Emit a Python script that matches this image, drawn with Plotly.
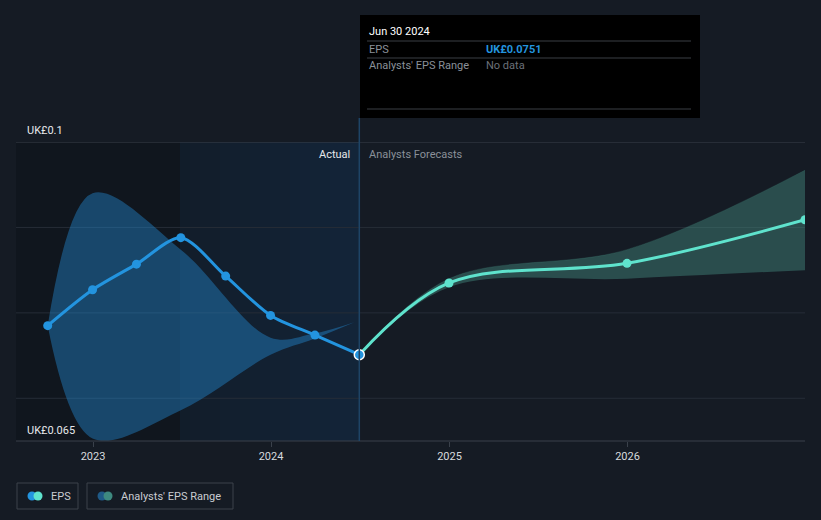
import plotly.graph_objects as go

# ---- data ----
eps_dates = ["2022-09-30", "2022-12-31", "2023-03-31", "2023-06-30",
             "2023-09-30", "2023-12-31", "2024-03-31", "2024-06-30"]
eps_values = [0.0785, 0.0827, 0.0857, 0.0888, 0.0843, 0.0797, 0.0774, 0.0751]

fc_dates = ["2024-06-30", "2024-12-31", "2025-12-31", "2026-12-31"]
fc_values = [0.0751, 0.0835, 0.0858, 0.0909]

hist_rng_dates = ["2022-09-30", "2022-12-31", "2023-06-30", "2023-12-31", "2024-03-31", "2024-06-20"]
hist_rng_high = [0.0785, 0.0940, 0.0874, 0.0771, 0.0776, 0.0789]
hist_rng_low = [0.0785, 0.0653, 0.0686, 0.0751, 0.0770, 0.0789]

fc_rng_dates = ["2024-06-30", "2024-12-31", "2025-12-31", "2026-12-31"]
fc_rng_high = [0.0751, 0.0840, 0.0874, 0.0967]
fc_rng_low = [0.0751, 0.0830, 0.0840, 0.0850]

x_ticks = ["2023-01-01", "2024-01-01", "2025-01-01", "2026-01-01"]
x_tick_labels = ["2023", "2024", "2025", "2026"]
y_min, y_max = 0.065, 0.1
y_grid = [0.07, 0.08, 0.09, 0.1]

BG = "#151b24"
BLUE = "#2394df"
TEAL = "#5fe3cd"

# plot area in pixels
L, R, T, B = 16, 805, 142, 441
W, H = 821, 520


def px(x):
    return (x - L) / (R - L)


def py(y):
    return (B - y) / (B - T)


fig = go.Figure()

# historical analyst range
fig.add_trace(go.Scatter(x=hist_rng_dates, y=hist_rng_high, mode="lines",
                         line=dict(width=0, shape="spline", smoothing=1, color="rgba(0,0,0,0)"),
                         hoverinfo="skip", showlegend=False))
fig.add_trace(go.Scatter(x=hist_rng_dates, y=hist_rng_low, mode="lines",
                         line=dict(width=0, shape="spline", smoothing=1, color="rgba(0,0,0,0)"),
                         fill="tonexty", fillcolor="rgba(35,140,215,0.42)",
                         hoverinfo="skip", showlegend=False))
# forecast range
fig.add_trace(go.Scatter(x=fc_rng_dates, y=fc_rng_high, mode="lines",
                         line=dict(width=0.6, shape="spline", smoothing=1, color="rgba(70,150,135,0.35)"),
                         hoverinfo="skip", showlegend=False))
fig.add_trace(go.Scatter(x=fc_rng_dates, y=fc_rng_low, mode="lines",
                         line=dict(width=0, shape="spline", smoothing=1, color="rgba(0,0,0,0)"),
                         fill="tonexty", fillcolor="rgba(75,160,145,0.38)",
                         hoverinfo="skip", showlegend=False))

# forecast EPS
fig.add_trace(go.Scatter(x=fc_dates, y=fc_values, mode="lines+markers",
                         line=dict(color=TEAL, width=3, shape="spline", smoothing=1),
                         marker=dict(size=9, color=TEAL), showlegend=False, hoverinfo="skip"))
# actual EPS
fig.add_trace(go.Scatter(x=eps_dates, y=eps_values, mode="lines+markers",
                         line=dict(color=BLUE, width=3, shape="spline", smoothing=0.8),
                         marker=dict(size=9, color=BLUE), showlegend=False, hoverinfo="skip"))
# hovered point
fig.add_trace(go.Scatter(x=[eps_dates[-1]], y=[eps_values[-1]], mode="markers",
                         marker=dict(size=10, color=BLUE, line=dict(color="white", width=1.5)),
                         showlegend=False, hoverinfo="skip"))

shapes = []
# dark past region
shapes.append(dict(type="rect", xref="x", yref="paper", x0="2022-07-01", x1="2023-06-30",
                   y0=0, y1=1, fillcolor="#10161e", line_width=0, layer="below"))
# actual highlight region (strips for a horizontal gradient)
shapes.append(dict(type="rect", xref="paper", yref="paper", x0=px(180), x1=px(360),
                   y0=0, y1=1, fillcolor="#121d2a", line_width=0, layer="below"))
n = 18
for i in range(n):
    a = 0.015 + 0.02 * i
    shapes.append(dict(type="rect", xref="paper", yref="paper",
                       x0=px(180 + 180 * i / n), x1=px(180 + 180 * (i + 1) / n),
                       y0=0, y1=1, fillcolor="rgba(22,52,85,%.3f)" % min(a, 0.4),
                       line_width=0, layer="below"))
# gridlines
for g in y_grid:
    shapes.append(dict(type="line", xref="paper", yref="y", x0=0, x1=1, y0=g, y1=g,
                       line=dict(color="#3a414b" if g == y_max else "#262d37", width=1), layer="below"))
# bottom axis line
shapes.append(dict(type="line", xref="paper", yref="paper", x0=0, x1=1, y0=0, y1=0,
                   line=dict(color="#3a414b", width=1)))
# hover vertical line
shapes.append(dict(type="line", xref="x", yref="paper", x0="2024-06-30", x1="2024-06-30",
                   y0=0, y1=py(118), line=dict(color="#1e4466", width=1.5)))
# tooltip box
shapes.append(dict(type="rect", xref="paper", yref="paper", x0=px(360), x1=px(700),
                   y0=py(118), y1=py(15), fillcolor="#000000", line=dict(color="#000000", width=0)))
for yy in (41, 58, 109):
    shapes.append(dict(type="line", xref="paper", yref="paper", x0=px(367), x1=px(691),
                       y0=py(yy), y1=py(yy), line=dict(color="#3b3f45", width=1)))
# legend boxes
for (x0, x1) in ((17, 78), (87, 233)):
    shapes.append(dict(type="rect", xref="paper", yref="paper", x0=px(x0), x1=px(x1),
                       y0=py(509), y1=py(483), fillcolor=BG,
                       line=dict(color="#3c424b", width=1)))


def dot(cx, cy, r, color):
    return dict(type="circle", xref="paper", yref="paper", x0=px(cx - r), x1=px(cx + r),
                y0=py(cy + r), y1=py(cy - r), fillcolor=color, line_width=0)


shapes += [dot(32, 496, 4.5, BLUE), dot(38, 496, 4.5, TEAL)]
shapes += [dot(102, 496, 4.5, "#1f5a87"), dot(108, 496, 4.5, "#3e8a80")]

FONT = "Roboto, Inter, sans-serif"
ann = []


def text(x, y, s, color, size=11, anchor="left", bold=False):
    ann.append(dict(xref="paper", yref="paper", x=px(x), y=py(y), text=("<b>%s</b>" % s) if bold else s,
                    showarrow=False, xanchor=anchor, yanchor="middle",
                    font=dict(family=FONT, size=size, color=color)))


text(25, 130, "UK£0.1", "#e6e8eb")
text(25, 430, "UK£0.065", "#e6e8eb")
text(352, 154, "Actual", "#e6e8eb", anchor="right")
text(367, 154, "Analysts Forecasts", "#8a9099")
text(367, 31, "Jun 30 2024", "#ffffff")
text(367, 49, "EPS", "#8a9099")
text(484, 49, "UK£0.0751", BLUE, bold=True)
text(367, 66, "Analysts' EPS Range", "#8a9099")
text(484, 66, "No data", "#6b7079")
text(49, 496, "EPS", "#c9ccd1")
text(119, 496, "Analysts' EPS Range", "#c9ccd1")

fig.update_layout(
    width=W, height=H,
    margin=dict(l=L, r=W - R, t=T, b=H - B),
    paper_bgcolor=BG, plot_bgcolor=BG,
    shapes=shapes, annotations=ann,
    showlegend=False,
    hovermode=False,
    xaxis=dict(range=["2022-07-27", "2026-12-31"], type="date",
               tickvals=x_ticks, ticktext=x_tick_labels,
               showgrid=False, zeroline=False, showline=False,
               ticks="outside", ticklen=5, tickcolor="#3a414b",
               tickfont=dict(family=FONT, size=11, color="#d7dade")),
    yaxis=dict(range=[y_min, y_max], showgrid=False, zeroline=False,
               showticklabels=False, showline=False),
)

fig.write_html("out.html", config={"displayModeBar": False},
               post_script="document.body.style.margin='0';document.body.style.background='%s';" % BG)
